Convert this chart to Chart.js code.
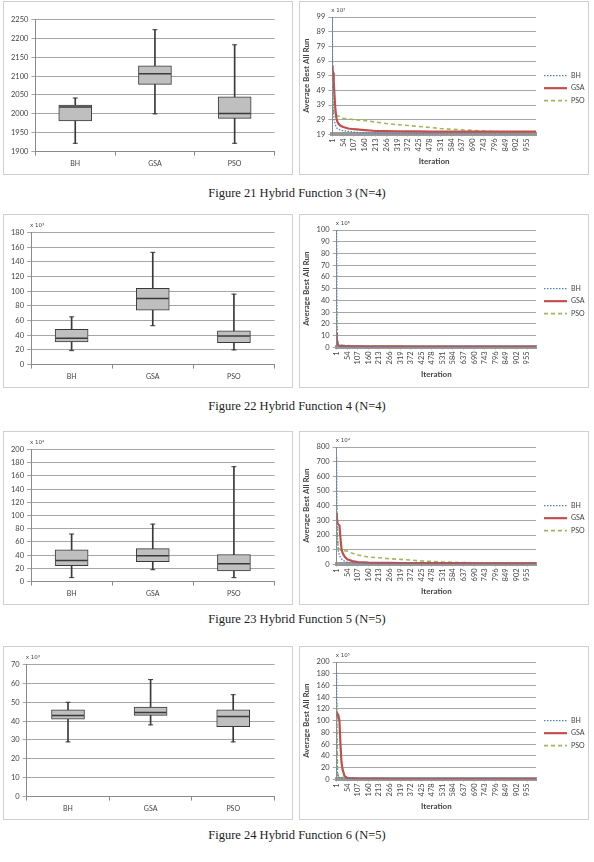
<!DOCTYPE html>
<html>
<head>
<meta charset="utf-8">
<script src="https://cdn.jsdelivr.net/npm/chart.js@4.4.1/dist/chart.umd.min.js"></script>
<style>
  body { margin: 0; background: #fff; width: 594px; height: 862px; position: relative; overflow: hidden; }
  .panel { position: absolute; width: 290px; height: 174px; border: 1px solid #cfcfcf; box-sizing: border-box; background: #fff; }
  .panel canvas { display: block; }
  .cap { position: absolute; left: 0; width: 594px; text-align: center; font-family: "Liberation Serif", serif; font-size: 12.5px; color: #222; }
</style>
</head>
<body>
<div class="panel" style="left:3px;top:1px"><canvas id="b21"></canvas></div>
<div class="panel" style="left:299px;top:1px"><canvas id="l21"></canvas></div>
<div class="cap" style="top:186px">Figure 21 Hybrid Function 3 (N=4)</div>

<div class="panel" style="left:3px;top:214px"><canvas id="b22"></canvas></div>
<div class="panel" style="left:299px;top:214px"><canvas id="l22"></canvas></div>
<div class="cap" style="top:399px">Figure 22 Hybrid Function 4 (N=4)</div>

<div class="panel" style="left:3px;top:431px"><canvas id="b23"></canvas></div>
<div class="panel" style="left:299px;top:431px"><canvas id="l23"></canvas></div>
<div class="cap" style="top:612px">Figure 23 Hybrid Function 5 (N=5)</div>

<div class="panel" style="left:3px;top:646px"><canvas id="b24"></canvas></div>
<div class="panel" style="left:299px;top:646px"><canvas id="l24"></canvas></div>
<div class="cap" style="top:828px">Figure 24 Hybrid Function 6 (N=5)</div>

<script>
// box plot data: min, q1, median, q3, max for BH, GSA, PSO
const algos = ["BH", "GSA", "PSO"];

const f21Min = [1922, 2000, 1922];
const f21Q1 = [1981, 2078, 1988];
const f21Med = [2018, 2106, 2001];
const f21Q3 = [2023, 2127, 2045];
const f21Max = [2042, 2223, 2183];
const f21BoxTicks = [1900, 1950, 2000, 2050, 2100, 2150, 2200, 2250];

const f22Min = [19, 53, 20];
const f22Q1 = [31, 74, 30];
const f22Med = [36, 90, 39];
const f22Q3 = [48, 104, 46];
const f22Max = [65, 153, 96];
const f22BoxTicks = [0, 20, 40, 60, 80, 100, 120, 140, 160, 180];

const f23Min = [6, 18, 6];
const f23Q1 = [24, 30, 16];
const f23Med = [32, 39, 27];
const f23Q3 = [48, 50, 41];
const f23Max = [72, 87, 174];
const f23BoxTicks = [0, 20, 40, 60, 80, 100, 120, 140, 160, 180, 200];

const f24Min = [29, 38, 29];
const f24Q1 = [41, 43, 37];
const f24Med = [43, 44.5, 42.5];
const f24Q3 = [46, 47.5, 46];
const f24Max = [50, 62, 54];
const f24BoxTicks = [0, 10, 20, 30, 40, 50, 60, 70];

// convergence curves, sampled at these iterations
const iters = [1, 2, 3, 5, 8, 10, 15, 20, 25, 30, 40, 54, 80, 107, 160, 213, 266, 319, 372, 425, 478, 531, 584, 637, 690, 743, 796, 849, 902, 955, 1000];
const iterTicks = [1, 54, 107, 160, 213, 266, 319, 372, 425, 478, 531, 584, 637, 690, 743, 796, 849, 902, 955];

const f21Bh = [99, 75, 55, 40, 32, 29, 26, 24, 23, 22.5, 22, 21.5, 21, 20.5, 20, 19.8, 19.6, 19.5, 19.5, 19.4, 19.4, 19.3, 19.3, 19.3, 19.2, 19.2, 19.2, 19.2, 19.2, 19.1, 19.1];
const f21Gsa = [66, 65, 63, 61, 55, 50, 38, 31, 28, 26.5, 25, 24, 23, 22.5, 21.9, 21.3, 21.2, 21.1, 21, 21, 20.9, 20.9, 20.9, 20.8, 20.8, 20.8, 20.8, 20.8, 20.8, 20.8, 20.8];
const f21Pso = [60, 52, 45, 38, 34, 33, 32.5, 32, 31.8, 31.5, 31, 30, 29.5, 29, 28.4, 27.4, 26.4, 25.6, 25, 24.4, 23.7, 23, 22.5, 22.1, 21.7, 21.3, 20.9, 20.6, 20.4, 20.2, 20];
const f21LineTicks = [19, 29, 39, 49, 59, 69, 79, 89, 99];

const f22Bh = [100, 40, 15, 6, 3, 2, 1.5, 1.2, 1, 1, 0.9, 0.8, 0.7, 0.6, 0.5, 0.5, 0.4, 0.4, 0.4, 0.4, 0.4, 0.4, 0.4, 0.4, 0.4, 0.4, 0.4, 0.4, 0.4, 0.4, 0.4];
const f22Gsa = [12, 8, 5, 3, 2, 1.8, 1.5, 1.3, 1.2, 1.1, 1, 1, 0.9, 0.8, 0.7, 0.6, 0.6, 0.6, 0.5, 0.5, 0.5, 0.5, 0.5, 0.5, 0.5, 0.5, 0.5, 0.5, 0.5, 0.5, 0.5];
const f22Pso = [30, 18, 10, 5, 3, 2.5, 2.2, 2, 1.9, 1.8, 1.7, 1.5, 1.3, 1.2, 1.1, 1, 0.9, 0.9, 0.8, 0.8, 0.8, 0.7, 0.7, 0.7, 0.7, 0.6, 0.6, 0.6, 0.6, 0.6, 0.6];
const f22LineTicks = [0, 10, 20, 30, 40, 50, 60, 70, 80, 90, 100];

const f23Bh = [730, 450, 300, 180, 110, 85, 60, 48, 38, 30, 22, 15, 10, 8, 6, 5, 4.5, 4, 4, 3.5, 3.5, 3.5, 3, 3, 3, 3, 3, 3, 3, 3, 3];
const f23Gsa = [350, 330, 300, 280, 275, 272, 265, 180, 110, 80, 55, 35, 22, 16, 12, 10, 9.5, 9, 9, 8.5, 8.5, 8, 8, 8, 7.5, 7.5, 7, 7, 7, 7, 7];
const f23Pso = [400, 320, 250, 180, 130, 110, 102, 98, 96, 95, 93, 90, 75, 64, 50, 45, 38, 34, 29, 23, 20, 16, 14, 12, 11, 10, 9, 8, 7.5, 7, 6.5];
const f23LineTicks = [0, 100, 200, 300, 400, 500, 600, 700, 800];

const f24Bh = [182, 80, 30, 10, 5, 4, 3, 2.5, 2, 2, 1.5, 1, 1, 0.8, 0.6, 0.5, 0.5, 0.5, 0.5, 0.5, 0.5, 0.5, 0.5, 0.5, 0.5, 0.5, 0.5, 0.5, 0.5, 0.5, 0.5];
const f24Gsa = [115, 114, 113, 112, 110, 108, 100, 60, 30, 18, 6, 2.5, 1.5, 1, 0.8, 0.7, 0.6, 0.5, 0.5, 0.5, 0.5, 0.5, 0.5, 0.5, 0.5, 0.5, 0.5, 0.5, 0.5, 0.5, 0.5];
const f24Pso = [130, 90, 60, 20, 7, 5, 4.5, 4, 3.8, 3.5, 3, 2, 1.5, 1, 0.8, 0.7, 0.6, 0.6, 0.6, 0.6, 0.6, 0.6, 0.6, 0.6, 0.6, 0.6, 0.6, 0.6, 0.6, 0.6, 0.6];
const f24LineTicks = [0, 20, 40, 60, 80, 100, 120, 140, 160, 180, 200];

Chart.defaults.font.family = "Lato, 'Liberation Sans', sans-serif";
Chart.defaults.color = "#444";
Chart.defaults.animation = false;
Chart.defaults.events = [];

// small "x 10^n" note above the y axis
Chart.register({
  id: "mult",
  afterDraw(chart, args, opts) {
    if (!opts || !opts.text) return;
    const ctx = chart.ctx;
    ctx.save();
    ctx.font = "5.5px 'DejaVu Sans', sans-serif";
    ctx.fillStyle = "#444";
    ctx.textBaseline = "bottom";
    ctx.fillText(opts.text, chart.chartArea.left - 1, chart.chartArea.top - 4);
    ctx.restore();
  }
});

// legend drawn beside the plot with the datasets' own dash patterns
Chart.register({
  id: "sideLegend",
  afterDraw(chart, args, opts) {
    if (!opts || !opts.show) return;
    const ctx = chart.ctx;
    const area = chart.chartArea;
    const mid = (area.top + area.bottom) / 2;
    ctx.save();
    chart.data.datasets.forEach((ds, i) => {
      const y = mid + i * 12.5;
      const x0 = area.right + 8;
      ctx.beginPath();
      ctx.setLineDash(ds.borderDash || []);
      ctx.lineWidth = ds.borderWidth;
      ctx.strokeStyle = ds.borderColor;
      ctx.moveTo(x0, y);
      ctx.lineTo(x0 + 23, y);
      ctx.stroke();
      ctx.setLineDash([]);
      ctx.font = "7px Lato, 'Liberation Sans', sans-serif";
      ctx.fillStyle = "#444";
      ctx.textBaseline = "middle";
      ctx.fillText(ds.label, x0 + 27, y);
    });
    ctx.restore();
  }
});

function fixedTicks(list) {
  return scale => { scale.ticks = list.map(v => ({ value: v })); };
}

function boxChart(id, mins, q1s, meds, q3s, maxs, yTicks, mult) {
  const dark = "#3a3a3a";
  new Chart(document.getElementById(id), {
    type: "bar",
    data: {
      labels: algos,
      datasets: [
        { data: mins.map((v, i) => [v, maxs[i]]), backgroundColor: dark, barThickness: 1, grouped: false, order: 3 },
        { data: q1s.map((v, i) => [v, q3s[i]]), backgroundColor: "#bfbfbf", borderColor: dark, borderWidth: 1,
          borderSkipped: false, barThickness: 33, grouped: false, order: 2 },
        { type: "line", data: meds, showLine: false, pointStyle: "line", pointRadius: 16, borderColor: dark, pointBorderWidth: 1.5, order: 1 },
        { type: "line", data: mins, showLine: false, pointStyle: "line", pointRadius: 2.5, borderColor: dark, pointBorderWidth: 1, order: 1 },
        { type: "line", data: maxs, showLine: false, pointStyle: "line", pointRadius: 2.5, borderColor: dark, pointBorderWidth: 1, order: 1 }
      ]
    },
    options: {
      responsive: true,
      maintainAspectRatio: false,
      layout: { padding: { top: 12, right: 5, left: 4, bottom: 2 } },
      plugins: { legend: { display: false }, tooltip: { enabled: false }, mult: { text: mult } },
      scales: {
        x: {
          grid: { drawOnChartArea: false, offset: true, tickLength: 4, color: "#8a8a8a" },
          border: { color: "#8a8a8a" },
          ticks: { font: { size: 7 }, padding: 4 }
        },
        y: {
          min: yTicks[0], max: yTicks[yTicks.length - 1],
          afterBuildTicks: fixedTicks(yTicks),
          grid: { color: "#a6a6a6", tickLength: 4 },
          border: { color: "#8a8a8a" },
          ticks: { font: { size: 7.5 }, padding: 3, autoSkip: false, callback: v => String(v) }
        }
      }
    }
  });
}

function lineChart(id, bh, gsa, pso, yTicks, mult) {
  const pts = arr => arr.map((v, i) => ({ x: iters[i], y: v }));
  new Chart(document.getElementById(id), {
    type: "line",
    data: {
      datasets: [
        { label: "BH", data: pts(bh), borderColor: "#4f81bd", borderDash: [1.5, 1.5], borderWidth: 1.3, pointRadius: 0, order: 1 },
        { label: "GSA", data: pts(gsa), borderColor: "#c0504d", borderWidth: 2.2, pointRadius: 0, order: 2 },
        { label: "PSO", data: pts(pso), borderColor: "#9bbb59", borderDash: [4, 3], borderWidth: 1.6, pointRadius: 0, order: 3 }
      ]
    },
    options: {
      responsive: true,
      maintainAspectRatio: false,
      layout: { padding: { top: 15, right: 52, left: 2, bottom: 8 } },
      plugins: {
        tooltip: { enabled: false },
        mult: { text: mult },
        legend: { display: false },
        sideLegend: { show: true }
      },
      scales: {
        x: {
          type: "linear", min: 1, max: 1000,
          afterBuildTicks: fixedTicks(iterTicks),
          grid: { drawOnChartArea: false, tickLength: 2, color: "#8a8a8a" },
          border: { color: "#999", width: 4 },
          ticks: { font: { size: 7.5 }, minRotation: 90, maxRotation: 90, autoSkip: false, padding: 2 },
          title: { display: true, text: "Iteration", font: { size: 8, weight: "bold" }, padding: { top: 3, bottom: 0 } }
        },
        y: {
          min: yTicks[0], max: yTicks[yTicks.length - 1],
          afterBuildTicks: fixedTicks(yTicks),
          grid: { color: "#a6a6a6", tickLength: 4 },
          border: { color: "#8a8a8a" },
          ticks: { font: { size: 7.5 }, padding: 3, autoSkip: false },
          title: { display: true, text: "Average Best All Run", font: { size: 8, weight: "bold" }, padding: { top: 0, bottom: 2 } }
        }
      }
    }
  });
}

boxChart("b21", f21Min, f21Q1, f21Med, f21Q3, f21Max, f21BoxTicks, "");
lineChart("l21", f21Bh, f21Gsa, f21Pso, f21LineTicks, "x 10²");
boxChart("b22", f22Min, f22Q1, f22Med, f22Q3, f22Max, f22BoxTicks, "x 10³");
lineChart("l22", f22Bh, f22Gsa, f22Pso, f22LineTicks, "x 10⁶");
boxChart("b23", f23Min, f23Q1, f23Med, f23Q3, f23Max, f23BoxTicks, "x 10⁴");
lineChart("l23", f23Bh, f23Gsa, f23Pso, f23LineTicks, "x 10⁴");
boxChart("b24", f24Min, f24Q1, f24Med, f24Q3, f24Max, f24BoxTicks, "x 10³");
lineChart("l24", f24Bh, f24Gsa, f24Pso, f24LineTicks, "x 10⁵");
</script>
</body>
</html>
